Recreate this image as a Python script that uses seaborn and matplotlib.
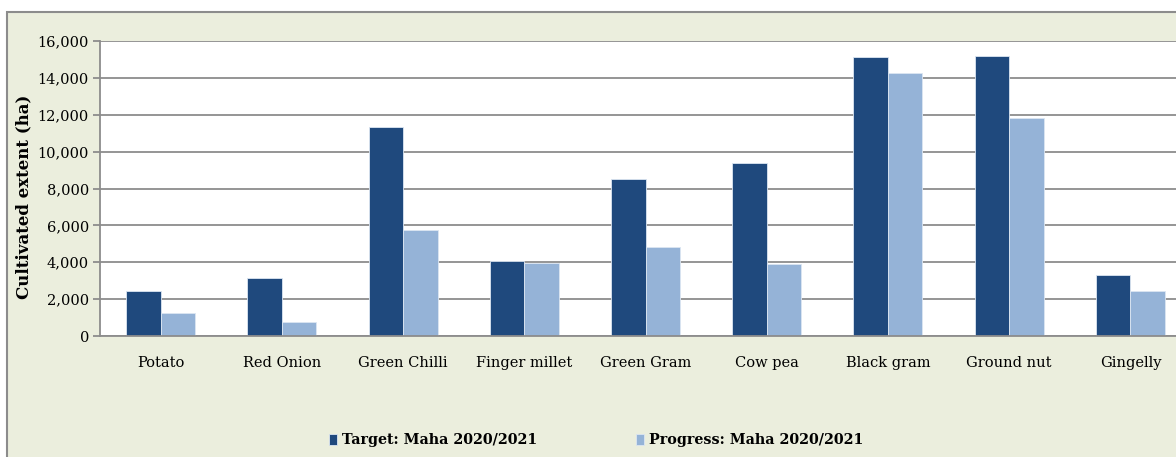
import pandas as pd
import numpy as np
import matplotlib.pyplot as plt
import matplotlib.ticker as mticker
from matplotlib.patches import Rectangle
import seaborn as sns

crops = ["Potato", "Red Onion", "Green Chilli", "Finger millet", "Green Gram",
         "Cow pea", "Black gram", "Ground nut", "Gingelly"]
target = [2450, 3160, 11350, 4070, 8520, 9380, 15110, 15180, 3290]
progress = [1250, 780, 5750, 3960, 4830, 3900, 14260, 11800, 2440]
series_names = ["Target: Maha 2020/2021", "Progress: Maha 2020/2021"]

df = pd.DataFrame({
    "crop": crops * 2,
    "value": target + progress,
    "series": [series_names[0]] * len(crops) + [series_names[1]] * len(crops),
})

sns.set_style("white")
plt.rcParams['font.family'] = ['DejaVu Serif']
plt.rcParams['text.color'] = 'black'
plt.rcParams['axes.labelcolor'] = 'black'
plt.rcParams['xtick.labelcolor'] = 'black'
plt.rcParams['ytick.labelcolor'] = 'black'

W, H = 1176, 457
fig = plt.figure(figsize=(W / 100, H / 100), dpi=100, facecolor="white")

# outer chart area (cropped on the right and bottom in the reference)
frame = Rectangle((7 / W, -0.1), 1.2, 1 - 12 / H + 0.1, transform=fig.transFigure,
                  facecolor="#ebeedd", edgecolor="#8c8c8c", linewidth=1.5, zorder=-1)
fig.patches.append(frame)

ax = fig.add_axes([100 / W, (H - 336) / H, (1191 - 100) / W, (336 - 41) / H])
ax.set_zorder(1)
ax.set_facecolor("white")

sns.barplot(data=df, x="crop", y="value", hue="series", ax=ax,
            palette=["#1f497d", "#95b3d7"], width=0.57, saturation=1,
            edgecolor="#dce6f2", linewidth=0.6, legend=True)

ax.set_ylim(0, 16000)
ax.set_xlim(-0.5, len(crops) - 0.5)
ax.yaxis.set_major_locator(mticker.MultipleLocator(2000))
ax.yaxis.set_major_formatter(mticker.FuncFormatter(lambda v, p: f"{v:,.0f}"))
ax.grid(axis="y", color="#8c8c8c", linewidth=1.3)
ax.set_axisbelow(True)

for s in ["top", "right"]:
    ax.spines[s].set_visible(False)
for s in ["left", "bottom"]:
    ax.spines[s].set_color("#8c8c8c")
    ax.spines[s].set_linewidth(1.3)

ax.tick_params(axis="y", which="major", left=True, length=5, width=1.3,
               color="#8c8c8c", labelsize=10.5, pad=3)
ax.tick_params(axis="x", bottom=False, labelsize=10.5, pad=11)

ax.set_xlabel("")
ax.set_ylabel("Cultivated extent (ha)", fontsize=12, fontweight="heavy")
ax.yaxis.set_label_coords(-(100 - 32) / (1191 - 100), (336 - 196.5) / 295)

handles, labels = ax.get_legend_handles_labels()
ax.get_legend().remove()
fig.legend(handles, labels, loc="center", bbox_to_anchor=(596 / W, (H - 440) / H),
           ncol=2, frameon=False, handlelength=0.55, handleheight=0.8,
           handletextpad=0.35, columnspacing=6.9,
           prop={"weight": "bold", "size": 10.3})

fig.savefig("out.png", dpi=100, facecolor=fig.get_facecolor())
